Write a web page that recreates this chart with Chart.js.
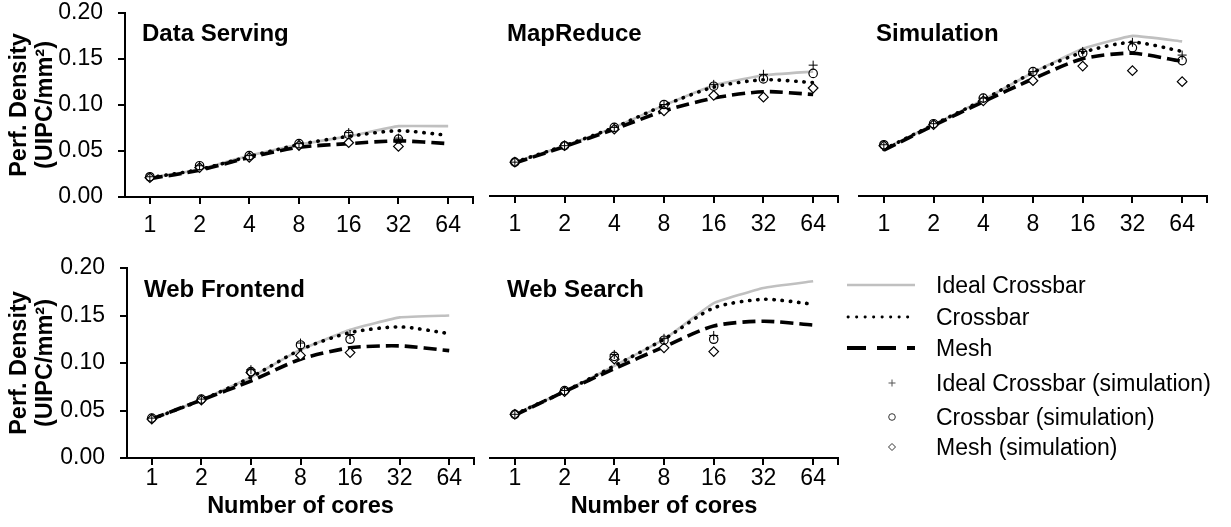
<!DOCTYPE html>
<html>
<head>
<meta charset="utf-8">
<script src="https://cdn.jsdelivr.net/npm/chart.js@4.4.0/dist/chart.umd.min.js"></script>
<style>
  html, body { margin:0; padding:0; background:#fff; }
  body { width:1231px; height:527px; overflow:hidden; position:relative; font-family:"Liberation Sans", Arial, sans-serif; }
  canvas { position:absolute; }
  .lg { position:absolute; left:936px; font-size:23px; color:#000; line-height:26px; white-space:nowrap; }
  svg { position:absolute; left:0; top:0; }
</style>
</head>
<body>
<canvas id="c1" width="480" height="250" style="left:0;top:0"></canvas>
<canvas id="c2" width="370" height="250" style="left:480px;top:0"></canvas>
<canvas id="c3" width="381" height="250" style="left:850px;top:0"></canvas>
<canvas id="c4" width="480" height="277" style="left:0;top:250px"></canvas>
<canvas id="c5" width="370" height="277" style="left:480px;top:250px"></canvas>

<svg width="1231" height="527" style="pointer-events:none">
  <line x1="847" y1="285" x2="915" y2="285" stroke="#c0c0c0" stroke-width="2.5"/>
  <line x1="848" y1="317" x2="915" y2="317" stroke="#000" stroke-width="2.8" stroke-dasharray="0.3 8.2" stroke-linecap="round"/>
  <line x1="847" y1="348" x2="915" y2="348" stroke="#000" stroke-width="4" stroke-dasharray="19 11"/>
  <path d="M888.5 383 H895.5 M892 379.5 V386.5" stroke="#555" stroke-width="1"/>
  <circle cx="892" cy="417" r="3.3" fill="none" stroke="#333" stroke-width="1"/>
  <path d="M892 443.5 L895.5 447 L892 450.5 L888.5 447 Z" fill="#fff" stroke="#333" stroke-width="1"/>
</svg>
<div class="lg" style="top:272px">Ideal Crossbar</div>
<div class="lg" style="top:304px">Crossbar</div>
<div class="lg" style="top:335px">Mesh</div>
<div class="lg" style="top:370px">Ideal Crossbar (simulation)</div>
<div class="lg" style="top:404px">Crossbar (simulation)</div>
<div class="lg" style="top:434px">Mesh (simulation)</div>

<script>
// ---------- data ----------
const coreLabels = ['1', '2', '4', '8', '16', '32', '64'];
const yTicks = [0, 0.05, 0.10, 0.15, 0.20];
const panelTitles = ['Data Serving', 'MapReduce', 'Simulation', 'Web Frontend', 'Web Search'];
const yTitle = ['Perf. Density', '(UIPC/mm\u00B2)'];
const xTitle = 'Number of cores';

// Data Serving
const dsIdeal    = [0.021, 0.030, 0.045, 0.057, 0.066, 0.077, 0.077];
const dsCross    = [0.021, 0.030, 0.044, 0.057, 0.066, 0.072, 0.067];
const dsMesh     = [0.020, 0.029, 0.043, 0.054, 0.058, 0.061, 0.058];
const dsIdealSim = [0.022, 0.034, 0.045, 0.058, 0.070, 0.064, null];
const dsCrossSim = [0.022, 0.034, 0.045, 0.058, 0.068, 0.063, null];
const dsMeshSim  = [0.021, 0.032, 0.043, 0.056, 0.059, 0.055, null];

// MapReduce
const mrIdeal    = [0.037, 0.055, 0.075, 0.099, 0.121, 0.132, 0.136];
const mrCross    = [0.037, 0.055, 0.075, 0.099, 0.119, 0.127, 0.124];
const mrMesh     = [0.036, 0.054, 0.073, 0.093, 0.107, 0.114, 0.111];
const mrIdealSim = [0.037, 0.055, 0.075, 0.100, 0.122, 0.133, 0.143];
const mrCrossSim = [0.037, 0.055, 0.075, 0.100, 0.120, 0.128, 0.134];
const mrMeshSim  = [0.037, 0.055, 0.073, 0.093, 0.110, 0.108, 0.118];

// Simulation
const smIdeal    = [0.051, 0.078, 0.105, 0.135, 0.161, 0.175, 0.169];
const smCross    = [0.051, 0.078, 0.105, 0.135, 0.157, 0.168, 0.158];
const smMesh     = [0.050, 0.077, 0.103, 0.128, 0.150, 0.156, 0.147];
const smIdealSim = [0.056, 0.079, 0.107, 0.136, 0.158, 0.168, 0.154];
const smCrossSim = [0.056, 0.079, 0.107, 0.136, 0.156, 0.162, 0.148];
const smMeshSim  = [0.055, 0.078, 0.104, 0.126, 0.142, 0.137, 0.125];

// Web Frontend
const wfIdeal    = [0.041, 0.061, 0.085, 0.114, 0.135, 0.148, 0.150];
const wfCross    = [0.041, 0.061, 0.085, 0.114, 0.132, 0.138, 0.131];
const wfMesh     = [0.041, 0.061, 0.081, 0.104, 0.116, 0.118, 0.113];
const wfIdealSim = [0.042, 0.062, 0.093, 0.121, 0.130, null, null];
const wfCrossSim = [0.042, 0.062, 0.091, 0.119, 0.125, null, null];
const wfMeshSim  = [0.041, 0.061, 0.090, 0.108, 0.111, null, null];

// Web Search
const wsIdeal    = [0.046, 0.070, 0.097, 0.125, 0.163, 0.179, 0.186];
const wsCross    = [0.046, 0.070, 0.097, 0.125, 0.158, 0.167, 0.162];
const wsMesh     = [0.045, 0.070, 0.094, 0.117, 0.139, 0.144, 0.140];
const wsIdealSim = [0.046, 0.071, 0.109, 0.126, 0.129, null, null];
const wsCrossSim = [0.046, 0.071, 0.107, 0.124, 0.125, null, null];
const wsMeshSim  = [0.046, 0.070, 0.104, 0.116, 0.112, null, null];

// ---------- drawing ----------
const FONT = '"Liberation Sans", Arial, sans-serif';
Chart.defaults.font.family = FONT;
Chart.defaults.color = '#000';

const panelTitlePlugin = {
  id: 'panelTitle',
  afterDatasetsDraw(chart, args, opts) {
    const { ctx, chartArea } = chart;
    ctx.save();
    ctx.font = 'bold 24px ' + FONT;
    ctx.fillStyle = '#000';
    ctx.textBaseline = 'alphabetic';
    ctx.textAlign = 'left';
    ctx.fillText(opts.text, chartArea.left + opts.dx, chartArea.top + opts.dy);
    ctx.restore();
  }
};

function pts(arr) { return arr.map((v, i) => ({ x: i + 1, y: v })); }

function makePanel(id, s) {
  const datasets = [
    { data: pts(s.idealSim), showLine: false, pointStyle: 'cross', pointRadius: 4.5, pointBorderColor: '#000', pointBorderWidth: 1, pointBackgroundColor: 'rgba(0,0,0,0)' },
    { data: pts(s.crossSim), showLine: false, pointStyle: 'circle', pointRadius: 4.2, pointBorderColor: '#000', pointBorderWidth: 1.2, pointBackgroundColor: 'rgba(255,255,255,0)' },
    { data: pts(s.meshSim), showLine: false, pointStyle: 'rectRot', pointRadius: 4.8, pointBorderColor: '#000', pointBorderWidth: 1.2, pointBackgroundColor: '#fff' },
    { data: pts(s.mesh), borderColor: '#000', borderWidth: 3.6, borderDash: [13, 6], pointRadius: 0, tension: 0.25, fill: false },
    { data: pts(s.cross), borderColor: '#000', borderWidth: 3.6, borderDash: [0.4, 7.8], borderCapStyle: 'round', pointRadius: 0, tension: 0.25, fill: false },
    { data: pts(s.ideal), borderColor: '#c0c0c0', borderWidth: 2.6, pointRadius: 0, tension: 0.1, fill: false }
  ];
  const cfg = {
    type: 'line',
    data: { datasets },
    plugins: [panelTitlePlugin],
    options: {
      responsive: false,
      animation: false,
      events: [],
      layout: { padding: { left: s.padLeft, right: s.padRight, top: s.padTop, bottom: 0 } },
      plugins: {
        legend: { display: false },
        tooltip: { enabled: false },
        panelTitle: { text: s.title, dx: 17, dy: s.titleDy }
      },
      scales: {
        x: {
          type: 'linear',
          min: 0.5, max: 7.5,
          afterBuildTicks(scale) {
            scale.ticks = coreLabels.map((l, i) => ({ value: i + 1 })).concat([{ value: 7.5 }]);
          },
          afterFit(scale) { scale.height = s.xHeight; scale.paddingLeft = 0; scale.paddingRight = 0; },
          ticks: {
            autoSkip: false, maxRotation: 0, padding: s.xPad,
            font: { size: 23, lineHeight: 1.0 }, color: '#000',
            callback: (v) => coreLabels[v - 1] !== undefined ? coreLabels[v - 1] : ''
          },
          grid: { drawOnChartArea: false, drawTicks: true, tickLength: 7, color: '#000', lineWidth: 2 },
          border: { display: true, color: '#000', width: 2 },
          title: { display: s.showXTitle, text: xTitle, font: { size: 23.5, weight: 'bold', lineHeight: 1.1 }, padding: { top: 0, bottom: 8 }, color: '#000' }
        },
        y: {
          display: s.showY,
          min: 0, max: 0.2,
          afterBuildTicks(scale) { scale.ticks = yTicks.map(v => ({ value: v })); },
          afterFit(scale) {
            if (s.showY) scale.width = s.yWidth;
            scale.paddingTop = 0; scale.paddingBottom = 0;
          },
          ticks: {
            padding: 15, font: { size: 23, lineHeight: 1.0 }, color: '#000',
            callback: (v) => v.toFixed(2)
          },
          grid: { drawOnChartArea: false, drawTicks: true, tickLength: 7, color: '#000', lineWidth: 2 },
          border: { display: true, color: '#000', width: 2 },
          title: { display: s.showY, text: yTitle, font: { size: 23.5, weight: 'bold', lineHeight: 1.08 }, padding: { top: 7, bottom: 0 }, color: '#000' }
        }
      }
    }
  };
  return new Chart(document.getElementById(id), cfg);
}

makePanel('c1', { title: panelTitles[0], ideal: dsIdeal, cross: dsCross, mesh: dsMesh, idealSim: dsIdealSim, crossSim: dsCrossSim, meshSim: dsMeshSim,
  showY: true, yWidth: 125, padLeft: 0, padRight: 7, padTop: 13, xHeight: 53, xPad: 10, showXTitle: false, titleDy: 28 });
makePanel('c2', { title: panelTitles[1], ideal: mrIdeal, cross: mrCross, mesh: mrMesh, idealSim: mrIdealSim, crossSim: mrCrossSim, meshSim: mrMeshSim,
  showY: false, padLeft: 10, padRight: 12, padTop: 13, xHeight: 54, xPad: 10, showXTitle: false, titleDy: 28 });
makePanel('c3', { title: panelTitles[2], ideal: smIdeal, cross: smCross, mesh: smMesh, idealSim: smIdealSim, crossSim: smCrossSim, meshSim: smMeshSim,
  showY: false, padLeft: 9, padRight: 24, padTop: 13, xHeight: 54, xPad: 10, showXTitle: false, titleDy: 28 });
makePanel('c4', { title: panelTitles[3], ideal: wfIdeal, cross: wfCross, mesh: wfMesh, idealSim: wfIdealSim, crossSim: wfCrossSim, meshSim: wfMeshSim,
  showY: true, yWidth: 127, padLeft: 0, padRight: 5, padTop: 18, xHeight: 69, xPad: 2, showXTitle: true, titleDy: 29 });
makePanel('c5', { title: panelTitles[4], ideal: wsIdeal, cross: wsCross, mesh: wsMesh, idealSim: wsIdealSim, crossSim: wsCrossSim, meshSim: wsMeshSim,
  showY: false, padLeft: 10, padRight: 12, padTop: 18, xHeight: 69, xPad: 2, showXTitle: true, titleDy: 29 });
</script>
</body>
</html>
